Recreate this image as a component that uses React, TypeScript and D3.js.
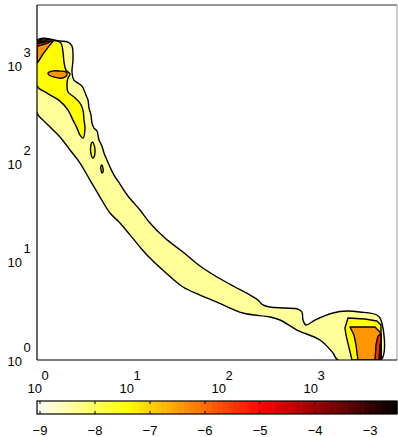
import React from "react";
import * as d3 from "d3";

type Pt = [number, number];

// Filled contour levels (log10 of the density) and the colour limits of the map
const levelValues = [-8.4, -7.4, -6.4, -5.4, -4.4, -3.4];
const colorLimits = [-9.055, -2.51];
const colorbarTicks = [-9, -8, -7, -6, -5, -4, -3];
const xDecades = [0, 1, 2, 3];
const yDecades = [0, 1, 2, 3];
const xDomain = [1, 8192];
const yDomain = [1, 4096];

// Contour outlines, in data units (x, y)
const outerBand: Pt[] = [
  [1, 1800], [1.778, 1760], [2.173, 1718], [2.401, 1564], [2.462, 1127], [2.401, 851],
  [2.525, 705], [3.084, 613], [3.409, 496], [3.584, 442], [3.675, 366], [3.864, 311],
  [3.961, 258], [4.165, 229], [4.489, 214], [4.719, 173], [5.088, 150], [5.349, 128],
  [5.766, 108], [6.216, 91.9], [6.871, 76.2], [7.983, 61.7], [9.752, 46.6], [13.17, 33.6],
  [16.9, 24.8], [24.6, 17.4], [38.6, 12.55], [59.1, 9.04], [90.5, 6.99], [142, 5.53],
  [207, 4.58], [252, 4.08], [286, 3.63], [341, 3.46], [496, 3.38], [687, 3.3],
  [759, 3.08], [779, 2.55], [839, 2.27], [1051, 2.55], [1650, 3.01], [2342, 3.15],
  [3243, 3.08], [4962, 2.87], [5484, 2.55], [5484, 1], [1869, 1], [1650, 1.178],
  [1191, 1.598], [670, 2.019], [438, 2.552], [341, 2.738], [173, 3.007], [90.5, 3.89],
  [59.1, 4.584], [38.6, 5.529], [24.6, 7.856], [16.9, 10.9], [13.17, 14.1], [7.98, 24.8],
  [6.216, 31.3], [4.84, 45.5], [3.768, 67.8], [2.934, 101], [2.284, 137], [1.778, 186],
  [1.385, 235], [1.162, 276], [1, 326],
];
const yellowTop: Pt[] = [
  [1, 1759], [1.65, 1759], [1.823, 1678], [1.917, 1359], [1.966, 1075], [2.066, 892],
  [2.284, 812], [2.173, 739], [2.119, 642], [2.173, 533], [2.525, 474], [2.934, 412],
  [3.162, 349], [3.243, 276], [3.324, 229], [3.162, 181], [2.934, 194], [2.721, 229],
  [2.462, 276], [2.173, 349], [1.778, 431], [1.284, 520], [1, 613],
];
const islandA: Pt[] = [
  [4.011, 165], [4.217, 150], [4.27, 131], [4.165, 116], [4.011, 113.5], [3.864, 125],
  [3.815, 143], [3.912, 161],
];
const islandB: Pt[] = [
  [5.088, 96.3], [5.217, 89.8], [5.217, 81.8], [5.088, 79.9], [4.962, 85.7], [4.962, 94.1],
];
const yellowRight: Pt[] = [
  [2654, 1], [2284, 1.796], [2227, 2.116], [2401, 2.675], [3675, 2.613], [4962, 2.493],
  [5484, 2.27], [5484, 1],
];
const orangeTop: Pt[] = [
  [1, 1759], [1.5, 1759], [1.35, 1564], [1.162, 1297], [1.025, 1075], [1, 1050],
];
const orangeLens: Pt[] = [
  [1.317, 831], [1.456, 871], [1.778, 871], [2.066, 851], [2.119, 793], [1.869, 739],
  [1.53, 757], [1.35, 793],
];
const orangeRight: Pt[] = [
  [3084, 1], [2934, 1.421], [2791, 1.796], [2525, 2.166], [3409, 2.166], [4719, 2.166],
  [5349, 1.927], [5484, 1.8], [5484, 1],
];
const redTop: Pt[] = [[1, 1759], [1.42, 1759], [1.3, 1680], [1.12, 1600], [1, 1560]];
const redRight: Pt[] = [[4719, 1], [4840, 1.421], [5088, 1.754], [5484, 1.839], [5484, 1]];
const darkRedTop: Pt[] = [[1, 1759], [1.284, 1759], [1.16, 1700], [1, 1660]];
const darkRight: Pt[] = [[5217, 1], [5349, 1.421], [5484, 1.598], [5484, 1]];
const blackTop: Pt[] = [[1, 1759], [1.133, 1759], [1, 1710]];

// Regions in drawing order, each tagged with the index of its contour level
const regions: { level: number; pts: Pt[]; smooth: boolean }[] = [
  { level: 0, pts: outerBand, smooth: true },
  { level: 1, pts: yellowTop, smooth: true },
  { level: 1, pts: yellowRight, smooth: false },
  { level: 1, pts: islandA, smooth: true },
  { level: 1, pts: islandB, smooth: true },
  { level: 2, pts: orangeTop, smooth: false },
  { level: 2, pts: orangeLens, smooth: true },
  { level: 2, pts: orangeRight, smooth: false },
  { level: 3, pts: redTop, smooth: false },
  { level: 3, pts: redRight, smooth: false },
  { level: 4, pts: darkRedTop, smooth: false },
  { level: 4, pts: darkRight, smooth: false },
  { level: 5, pts: blackTop, smooth: false },
];

// Inverted "hot" colour map: white -> yellow -> red -> black
function hotInverted(t: number): string {
  const s = 1 - Math.max(0, Math.min(1, t));
  const c = (v: number) => Math.max(0, Math.min(1, v));
  const r = c(s / 0.375);
  const g = c((s - 0.375) / 0.375);
  const b = c((s - 0.75) / 0.25);
  return d3.rgb(r * 255, g * 255, b * 255).formatHex();
}

const W = 398;
const H = 437;
const left = 37, right = 397, top = 5, bottom = 360;
const font = "'Liberation Sans', Arial, Helvetica, sans-serif";

export default function App() {
  const x = d3.scaleLog().domain(xDomain).range([left, right]);
  const y = d3.scaleLog().domain(yDomain).range([bottom, top]);
  const cNorm = d3.scaleLinear().domain(colorLimits).range([0, 1]);
  const cx = d3.scaleLinear().domain(colorLimits).range([left, right]);
  const smoothLine = d3
    .line<Pt>()
    .x((d) => x(d[0]))
    .y((d) => y(d[1]))
    .curve(d3.curveCatmullRomClosed.alpha(0.5));
  const straightLine = d3
    .line<Pt>()
    .x((d) => x(d[0]))
    .y((d) => y(d[1]))
    .curve(d3.curveLinearClosed);

  const nBands = 64;
  const bands = d3.range(nBands);
  const barTop = 401, barBottom = 414;
  const bandW = (right - left) / nBands;

  return (
    <svg
      width={W}
      height={H}
      style={{ position: "absolute", left: 0, top: 0, background: "#fff" }}
      fontFamily={font}
    >
      <defs>
        <clipPath id="plotArea">
          <rect x={left} y={top} width={right - left} height={bottom - top} />
        </clipPath>
      </defs>
      <rect x={0} y={0} width={W} height={H} fill="#fff" />
      <g clipPath="url(#plotArea)">
        {regions.map((r, i) => (
          <path
            key={i}
            d={(r.smooth ? smoothLine(r.pts) : straightLine(r.pts)) || ""}
            fill={hotInverted(cNorm(levelValues[r.level]))}
            stroke="#000"
            strokeWidth={1.4}
            strokeLinejoin="round"
          />
        ))}
      </g>
      {/* axes box */}
      <line x1={left} x2={right} y1={top} y2={top} stroke="#333" strokeWidth={1} />
      <line x1={right} x2={right} y1={top} y2={bottom} stroke="#999" strokeWidth={1} />
      <line x1={left} x2={left} y1={top} y2={bottom} stroke="#000" strokeWidth={1.2} />
      <line x1={left} x2={right} y1={bottom} y2={bottom} stroke="#000" strokeWidth={1.2} />

      {/* y tick labels */}
      {yDecades.map((e) => (
        <g key={"y" + e} fontSize={13} fill="#000">
          <text x={22} y={y(Math.pow(10, e)) + 5.5} textAnchor="end">10</text>
          <text x={23.5} y={y(Math.pow(10, e)) - 8.5}>{e}</text>
        </g>
      ))}
      {/* x tick labels */}
      {xDecades.map((e) => (
        <g key={"x" + e} fontSize={13} fill="#000">
          <text x={x(Math.pow(10, e)) + 5} y={393} textAnchor="end">10</text>
          <text x={x(Math.pow(10, e)) + 4.5} y={380}>{e}</text>
        </g>
      ))}

      {/* colorbar */}
      {bands.map((i) => (
        <rect
          key={"b" + i}
          x={left + i * bandW}
          y={barTop}
          width={bandW + 0.5}
          height={barBottom - barTop}
          fill={hotInverted((i + 0.5) / nBands)}
        />
      ))}
      {colorbarTicks.map((t) => (
        <g key={"t" + t}>
          <line x1={cx(t)} x2={cx(t)} y1={barTop} y2={barTop + 3} stroke="#000" />
          <line x1={cx(t)} x2={cx(t)} y1={barBottom - 3} y2={barBottom} stroke="#000" />
          <text x={cx(t)} y={435} textAnchor="middle" fontSize={13} fill="#000">
            {"\u2212" + Math.abs(t)}
          </text>
        </g>
      ))}
      <rect
        x={left}
        y={barTop}
        width={right - left}
        height={barBottom - barTop}
        fill="none"
        stroke="#000"
        strokeWidth={1.2}
      />
    </svg>
  );
}
